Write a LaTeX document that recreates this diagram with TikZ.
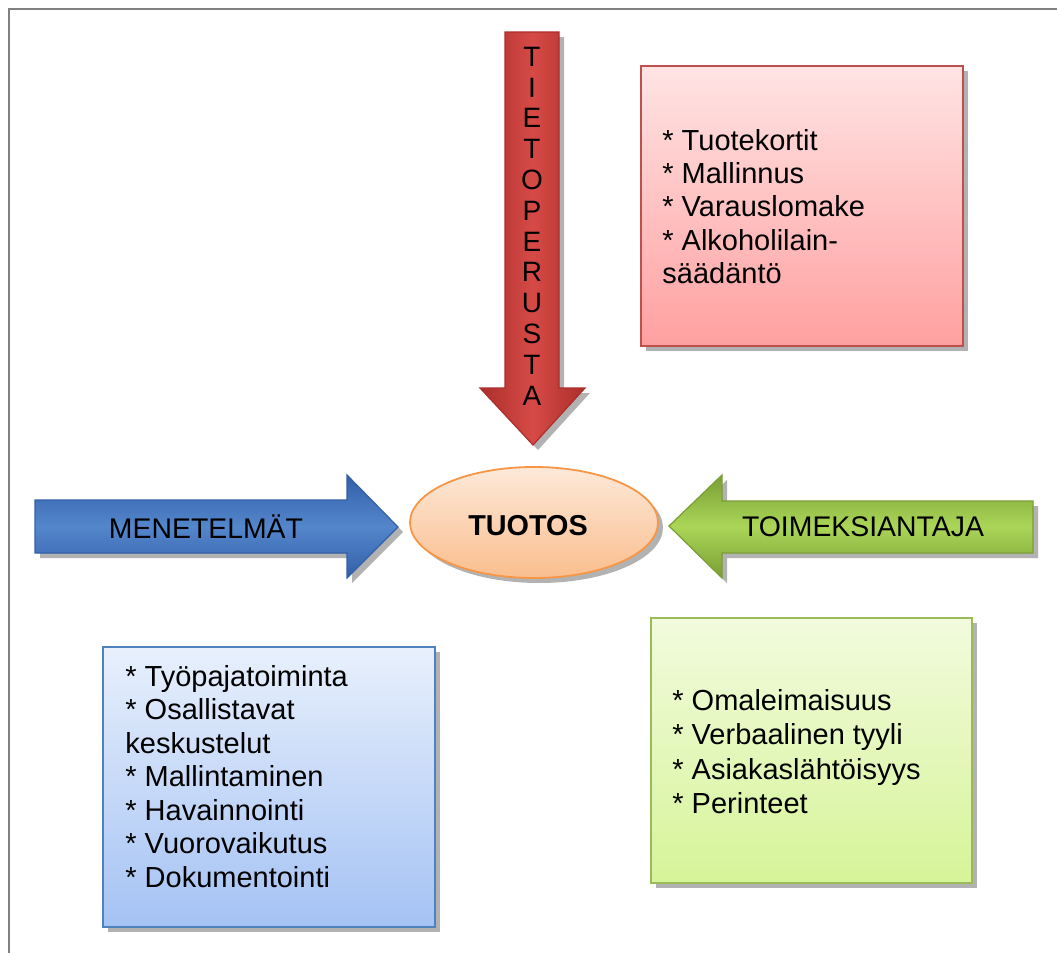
\documentclass[tikz,border=0pt]{standalone}
\usepackage{fontspec}
\setmainfont{Liberation Sans}
\usetikzlibrary{shapes.geometric,shadows}

\definecolor{redmid}{RGB}{214,74,70}
\definecolor{reddark}{RGB}{172,46,44}
\definecolor{bluemid}{RGB}{84,134,204}
\definecolor{bluedark}{RGB}{50,96,168}
\definecolor{greenmid}{RGB}{170,214,88}
\definecolor{greendark}{RGB}{122,158,52}
\definecolor{peachtop}{RGB}{253,233,217}
\definecolor{peachbot}{RGB}{250,190,142}
\definecolor{peachline}{RGB}{247,150,70}
\definecolor{pinktop}{RGB}{255,228,228}
\definecolor{pinkbot}{RGB}{255,160,160}
\definecolor{pinkline}{RGB}{192,80,77}
\definecolor{skytop}{RGB}{232,240,252}
\definecolor{skybot}{RGB}{164,194,244}
\definecolor{skyline}{RGB}{79,129,189}
\definecolor{limetop}{RGB}{242,251,222}
\definecolor{limebot}{RGB}{214,244,152}
\definecolor{limeline}{RGB}{155,187,89}

\tikzset{
  softshadow/.style={drop shadow={shadow xshift=2.5pt,shadow yshift=-2.5pt,opacity=.3,fill=black}},
  listbox/.style={rectangle,draw=#1line,line width=.9pt,top color=#1top,bottom color=#1bot,inner sep=0pt,softshadow},
  listtext/.style={align=left,inner sep=0pt,anchor=west,font=\fontsize{14.5}{#1}\selectfont},
  arrowtext/.style={inner sep=0pt,font=\fontsize{14.2}{16}\selectfont},
}

\begin{document}
\begin{tikzpicture}[x=0.5pt,y=-0.5pt]
   \useasboundingbox (0,0) rectangle (1057,953);
   %frame
   \draw[gray,line width=1pt] (9,953) -- (9,9) -- (1057,9);
   %arrow down
   \path[draw=reddark,line width=.6pt,left color=reddark,right color=reddark,middle color=redmid,softshadow]
      (505,32) -- (559,32) -- (559,388) -- (585,388) -- (533,445) -- (480,388) -- (505,388) -- cycle;
   \node[align=center,inner sep=0pt,font=\fontsize{14}{15.4}\selectfont] (tieto) at (532,226)
      {T\\I\\E\\T\\O\\P\\E\\R\\U\\S\\T\\A};
   %arrow right
   \path[draw=bluedark,line width=.6pt,top color=bluedark,bottom color=bluedark,middle color=bluemid,softshadow]
      (35,500) -- (347,500) -- (347,475) -- (398,527) -- (347,578) -- (347,553) -- (35,553) -- cycle;
   \node[arrowtext] (menetelmat) at (206,527) {MENETELMÄT};
   %arrow left
   \path[draw=greendark,line width=.6pt,top color=greendark,bottom color=greendark,middle color=greenmid,softshadow]
      (1033,501) -- (722,501) -- (722,475) -- (669,526) -- (722,578) -- (722,553) -- (1033,553) -- cycle;
   \node[arrowtext] (toimeksiantaja) at (863,527) {TOIMEKSIANTAJA};
   %center
   \node[ellipse,draw=peachline,line width=.9pt,top color=peachtop,bottom color=peachbot,
      minimum width=124pt,minimum height=55.5pt,softshadow] (tuotos) at (534,522.5) {};
   \node[inner sep=0pt,font=\fontsize{14.4}{16}\bfseries] (tuotostext) at (528,525.5) {TUOTOS};
   %boxes
   \node[listbox=pink,minimum width=161pt,minimum height=140pt] (tietobox) at (802,206) {};
   \node[listtext=16.6] (tietolist) at (662,206.5)
      {* Tuotekortit\\* Mallinnus\\* Varauslomake\\* Alkoholilain-\\säädäntö};
   \node[listbox=sky,minimum width=166pt,minimum height=140pt] (menetelmabox) at (269,787) {};
   \node[listtext=16.75] (menetelmalist) at (125,776.5)
      {* Työpajatoiminta\\* Osallistavat\\keskustelut\\* Mallintaminen\\* Havainnointi\\* Vuorovaikutus\\* Dokumentointi};
   \node[listbox=lime,minimum width=160.5pt,minimum height=132.5pt] (toimeksiantobox) at (811.5,750.5) {};
   \node[listtext=17.15] (toimeksiantolist) at (672,751.5)
      {* Omaleimaisuus\\* Verbaalinen tyyli\\* Asiakaslähtöisyys\\* Perinteet};
\end{tikzpicture}
\end{document}
